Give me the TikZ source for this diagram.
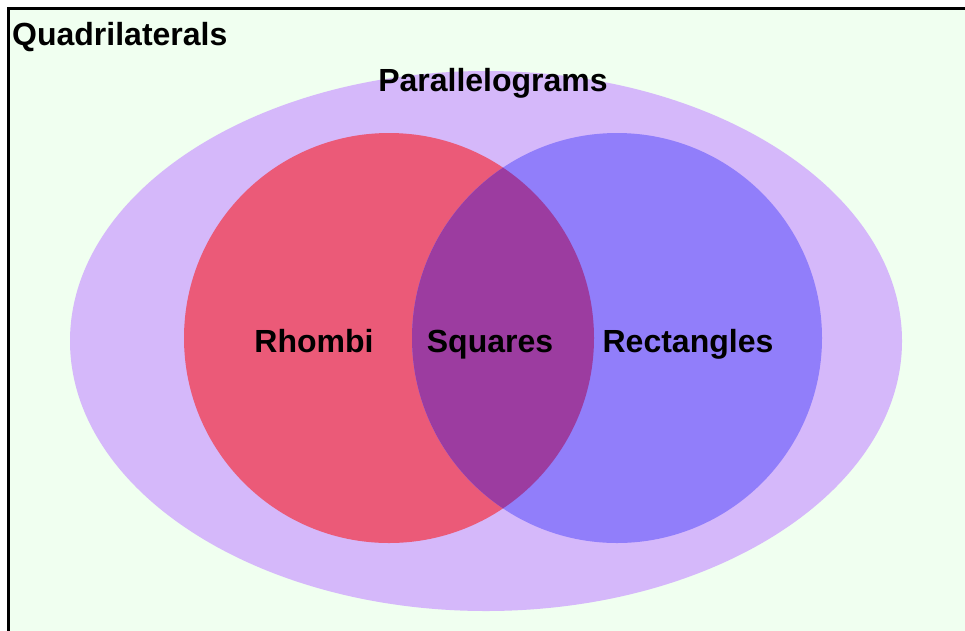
\documentclass[tikz,border=0pt]{standalone}
\usepackage{fontspec}
\setmainfont{Liberation Sans}
\definecolor{bgc}{HTML}{F0FFF0}
\definecolor{lav}{HTML}{D5B8FA}
\definecolor{redc}{HTML}{EB5A78}
\definecolor{bluec}{HTML}{917EFA}
\definecolor{mixc}{HTML}{9C3CA0}
\begin{document}
\begin{tikzpicture}[x=1pt,y=-1pt,
  lbl/.style={font=\fontsize{32}{38}\selectfont\bfseries, inner sep=0pt, anchor=base}]
\useasboundingbox (0,0) rectangle (965,630);
\fill[white] (0,0) rectangle (965,630);
\filldraw[fill=bgc, draw=black, line width=3pt] (8,8) rectangle (975,640);
\fill[lav] (486,341) ellipse [x radius=416, y radius=270];
\fill[redc] (389,338) circle [radius=205];
\fill[bluec] (617,338) circle [radius=205];
\begin{scope}
\clip (389,338) circle [radius=205];
\fill[mixc] (617,338) circle [radius=205];
\end{scope}
\node[lbl, anchor=base west] (quad) at (12,45) {Quadrilaterals};
\node[lbl] (para) at (493,91) {Parallelograms};
\node[lbl] (rhom) at (314,352) {Rhombi};
\node[lbl] (squa) at (490,352) {Squares};
\node[lbl] (rect) at (688,352) {Rectangles};
\end{tikzpicture}
\end{document}
